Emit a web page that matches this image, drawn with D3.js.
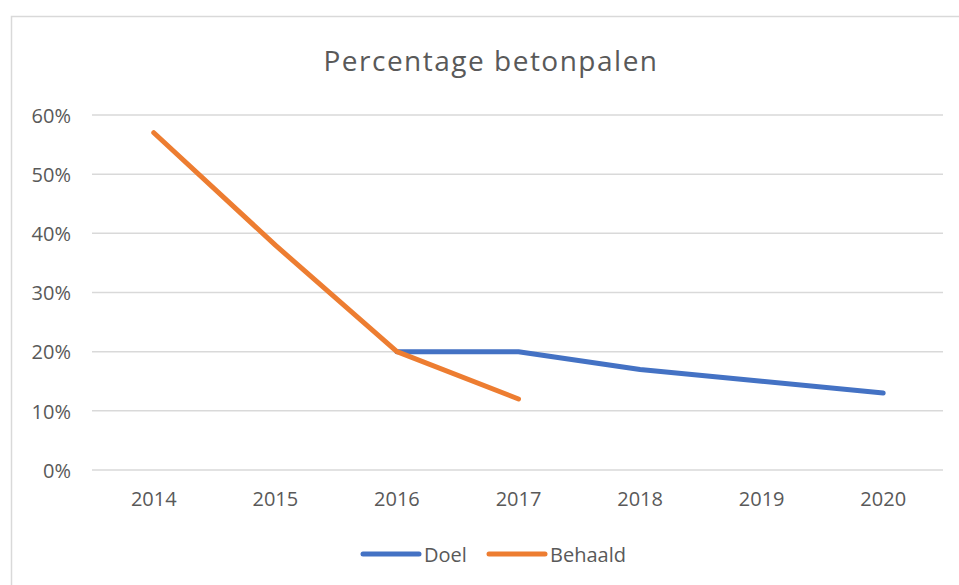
<!DOCTYPE html>
<html>
<head>
<meta charset="utf-8">
<script src="https://cdn.jsdelivr.net/npm/d3@7"></script>
<style>
  html, body { margin: 0; padding: 0; background: #fff; }
  svg { display: block; }
  text { font-family: "Open Sans", sans-serif; fill: #595959; }
</style>
</head>
<body>
<svg id="chart" width="959" height="585"></svg>
<script>
const years = ["2014", "2015", "2016", "2017", "2018", "2019", "2020"];
const doel = [null, null, 0.20, 0.20, 0.17, 0.15, 0.13];
const behaald = [0.57, 0.38, 0.20, 0.12, null, null, null];
const yTicks = [0, 0.1, 0.2, 0.3, 0.4, 0.5, 0.6];
const seriesNames = ["Doel", "Behaald"];
const seriesColors = ["#4472C4", "#ED7D31"];
const titleText = "Percentage betonpalen";

const svg = d3.select("#chart");

// outer border
svg.append("rect")
  .attr("x", 11.5).attr("y", 16.5)
  .attr("width", 980).attr("height", 600)
  .attr("fill", "#fff")
  .attr("stroke", "#d9d9d9").attr("stroke-width", 1.5);

const x = d3.scaleBand().domain(years).range([93, 944]);
const y = d3.scaleLinear().domain([0, 0.6]).range([470, 115]);

// gridlines
svg.append("g").selectAll("line").data(yTicks).join("line")
  .attr("x1", 92).attr("x2", 943)
  .attr("y1", d => y(d)).attr("y2", d => y(d))
  .attr("stroke", "#d9d9d9").attr("stroke-width", 1.5);

// y axis labels
const yAxis = d3.axisLeft(y).tickValues(yTicks).tickFormat(d3.format(".0%")).tickSize(0).tickPadding(0);
const gy = svg.append("g").attr("transform", "translate(71,0)").call(yAxis);
gy.select(".domain").remove();
gy.selectAll("text").attr("font-size", 20).attr("font-family", "'Open Sans', sans-serif").attr("fill", "#595959").attr("dy", "0.36em");

// x axis labels
const xAxis = d3.axisBottom(x).tickSize(0).tickPadding(0);
const gx = svg.append("g").attr("transform", "translate(0,492)").call(xAxis);
gx.select(".domain").remove();
gx.selectAll("text").attr("font-size", 20).attr("font-family", "'Open Sans', sans-serif").attr("fill", "#595959").attr("dy", "0.72em");

// lines
const line = d3.line()
  .defined(d => d.v !== null)
  .x(d => x(d.year) + x.bandwidth() / 2)
  .y(d => y(d.v));

[doel, behaald].forEach((vals, i) => {
  const data = years.map((yr, j) => ({year: yr, v: vals[j]}));
  svg.append("path")
    .datum(data)
    .attr("d", line)
    .attr("fill", "none")
    .attr("stroke", seriesColors[i])
    .attr("stroke-width", 5)
    .attr("stroke-linecap", "round")
    .attr("stroke-linejoin", "round");
});

// title
svg.append("text")
  .attr("x", 491).attr("y", 71)
  .attr("text-anchor", "middle")
  .attr("font-size", 28)
  .attr("letter-spacing", 1.5)
  .text(titleText);

// legend
const legendX = [363, 489];
const lg = svg.append("g");
seriesNames.forEach((name, i) => {
  lg.append("line")
    .attr("x1", legendX[i]).attr("x2", legendX[i] + 56)
    .attr("y1", 554).attr("y2", 554)
    .attr("stroke", seriesColors[i]).attr("stroke-width", 5)
    .attr("stroke-linecap", "round");
  lg.append("text")
    .attr("x", legendX[i] + 61).attr("y", 562)
    .attr("font-size", 20)
    .text(name);
});
</script>
</body>
</html>
